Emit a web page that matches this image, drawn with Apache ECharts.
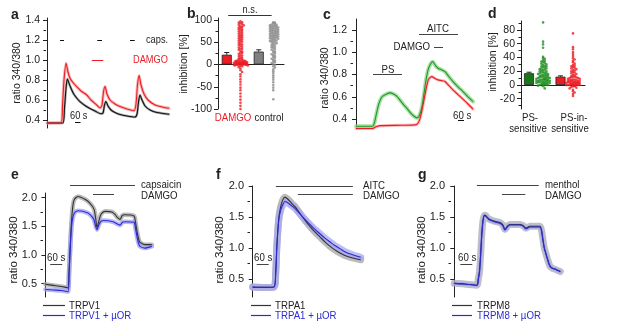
<!DOCTYPE html>
<html>
<head>
<meta charset="utf-8">
<script src="https://cdn.jsdelivr.net/npm/echarts@6/dist/echarts.min.js"></script>
<style>
  html, body { margin: 0; background: #fff; }
  #chart { width: 617px; height: 332px; }
</style>
</head>
<body>
<div id="chart"></div>
<script>
// ---------- data (time in s, ratio 340/380, inhibition in %) ----------
// panel a
const aBlack = [[0,0.37],[170,0.37],[189,0.52],[206,0.72],[220,0.81],[249,0.74],[285,0.667],[321,0.62],[357,0.583],[411,0.545],[465,0.515],[519,0.49],[584,0.462],[606,0.47],[622,0.55],[638,0.585],[660,0.54],[693,0.50],[736,0.475],[790,0.455],[866,0.44],[952,0.43],[974,0.46],[990,0.58],[1006,0.65],[1028,0.60],[1061,0.54],[1115,0.50],[1190,0.475],[1320,0.457]];
const aRed = [[0,0.37],[152,0.37],[168,0.55],[184,0.80],[206,0.967],[227,0.88],[249,0.817],[285,0.77],[321,0.733],[368,0.69],[430,0.65],[476,0.60],[538,0.55],[574,0.52],[595,0.55],[611,0.68],[628,0.735],[649,0.66],[682,0.60],[736,0.56],[790,0.535],[866,0.51],[942,0.493],[963,0.56],[979,0.75],[996,0.845],[1017,0.75],[1050,0.66],[1093,0.60],[1169,0.55],[1245,0.53],[1320,0.517]];
const aCaps = [[141,184,1.2],[544,595,1.2],[898,949,1.2]];
const aDamgo = [[484,609,1.0]];
const aScale = [[303,363,0.38]];
const aTicks = [0.4,0.6,0.8,1.0,1.2,1.4];
const aMinor = [0.5,0.7,0.9,1.1,1.3];

// panel b
const bBars = [[0.53,22,5],[2.47,29,4]];
const bDamgo = [97,95,94,92,91,89,88,86,85,83,82,80,79,77,76,74,72,71,69,67,66,64,62,61,59,57,56,54,52,51,49,47,45,44,42,40,38,36,35,33,31,29,27,26,24,22,20,19,17,15,14,12,11,10,9,9,8,8,7,7,6,6,6,5,5,5,4,4,4,4,3,3,3,3,2,2,2,2,1,1,1,1,0,0,0,0,0,-1,-1,-1,-2,-2,-3,-4,-6,-9,-13,-17,-22,-27,-33,-39,-45,-52,-58,-65,-72,-79,-86,-93,-100];
const bControl = [95,94,92,91,90,89,88,87,86,85,85,84,83,82,81,80,80,79,78,77,76,75,75,74,73,72,71,70,70,69,68,67,66,65,65,64,63,62,61,60,60,59,58,57,56,55,54,53,52,51,50,48,47,45,44,42,40,39,37,35,33,31,29,27,25,23,21,19,17,15,13,11,9,7,5,3,1,-1,-4,-7,-11,-15,-19,-24,-29,-34,-40,-46,-52,-58,-78];
const bBracket = [[0.62,3.25,110]];
const bTicks = [-100,-50,0,50,100];
const bMinor = [-75,-25,25,75];

// panel c
const cGreen = [[0,0.335],[167,0.335],[185,0.37],[205,0.45],[230,0.54],[260,0.60],[307,0.626],[340,0.635],[375,0.625],[407,0.605],[440,0.57],[475,0.53],[507,0.498],[545,0.455],[580,0.425],[607,0.41],[630,0.425],[657,0.50],[680,0.63],[700,0.75],[720,0.84],[745,0.895],[767,0.916],[795,0.88],[820,0.857],[850,0.845],[890,0.826],[930,0.78],[970,0.737],[1020,0.69],[1070,0.647],[1120,0.60],[1170,0.557]];
const cRed = [[0,0.315],[167,0.315],[200,0.33],[250,0.34],[400,0.343],[560,0.345],[607,0.35],[635,0.39],[660,0.48],[690,0.62],[723,0.752],[757,0.781],[790,0.765],[820,0.752],[860,0.745],[890,0.737],[930,0.70],[970,0.662],[1020,0.62],[1070,0.578],[1120,0.535],[1170,0.489]];
const cStim = [[170,460,0.8],[630,1020,1.164],[780,870,1.048]];
const cScale = [[1020,1080,0.393]];
const cTicks = [0.4,0.6,0.8,1.0,1.2];
const cMinor = [0.5,0.7,0.9,1.1];

// panel d
const dBars = [[0.5,17,1.5],[2.47,12,1.2]];
const dSensitive = [95,91,63,59,54,41,39,38,36,35,34,33,32,31,30,29,28,27,27,26,25,24,24,23,22,22,21,20,20,19,18,18,17,17,16,16,15,15,14,14,13,13,12,12,12,11,11,10,10,10,9,9,9,8,8,8,7,7,7,6,6,6,5,5,5,5,4,4,4,3,3,3,2,2,2,1,1,1,0,0,0,-1,-2,-5];
const dInsensitive = [75,55,52,48,45,42,39,37,35,33,31,29,28,27,26,25,24,23,22,21,20,19,18,17,16,15,14,13,12,12,11,11,10,10,9,9,8,8,7,7,7,6,6,6,5,5,5,4,4,4,4,3,3,3,3,2,2,2,2,1,1,1,1,0,0,0,0,0,-1,-1,-2,-2,-3,-4,-5,-7,-9,-11,-13,-16];
const dTicks = [-20,0,20,40,60,80];
const dMinor = [-30,-10,10,30,50,70,90];

// panel e
const eTRPV1 = [[0,0.49],[40,0.47],[80,0.45],[113,0.43],[118,0.7],[124,1.15],[130,1.55],[137,1.85],[145,1.97],[163,2.02],[198,1.97],[223,1.9],[243,1.8],[252,1.62],[258,1.48],[268,1.6],[278,1.71],[298,1.76],[333,1.75],[350,1.70],[358,1.66],[373,1.62],[383,1.68],[393,1.70],[443,1.68],[450,1.58],[458,1.41],[466,1.28],[473,1.22],[498,1.18],[532,1.18]];
const eTRPV1mor = [[0,0.40],[40,0.39],[80,0.38],[113,0.36],[118,0.65],[124,1.1],[130,1.47],[137,1.65],[147,1.74],[163,1.77],[213,1.73],[235,1.66],[243,1.61],[258,1.44],[270,1.55],[288,1.60],[338,1.58],[360,1.54],[373,1.52],[385,1.57],[398,1.58],[443,1.57],[450,1.47],[458,1.32],[466,1.20],[473,1.15],[498,1.12],[532,1.15]];
const eStim = [[123,448,2.22],[238,343,2.05]];
const eScale = [[24,84,0.843]];

// panel f
const fTRPA1 = [[0,0.37],[50,0.365],[106,0.37],[115,0.6],[121,1.05],[131,1.5],[141,1.68],[151,1.78],[161,1.82],[175,1.79],[195,1.72],[211,1.67],[236,1.56],[261,1.45],[286,1.35],[311,1.26],[336,1.18],[361,1.10],[386,1.03],[411,0.97],[436,0.92],[461,0.88],[500,0.84],[540,0.81]];
const fTRPA1mor = [[0,0.37],[50,0.365],[106,0.37],[115,0.6],[121,1.03],[131,1.47],[141,1.62],[151,1.70],[161,1.75],[175,1.73],[195,1.68],[211,1.64],[236,1.55],[261,1.46],[286,1.38],[311,1.30],[336,1.23],[361,1.16],[386,1.10],[411,1.04],[436,0.99],[461,0.94],[500,0.89],[540,0.85]];
const fStim = [[116,501,2.0],[226,501,1.87]];
const fScale = [[20,80,0.742]];

// panel g
const gTRPM8 = [[0,0.43],[50,0.42],[113,0.40],[120,0.50],[126,0.62],[131,0.85],[137,1.2],[143,1.43],[150,1.53],[158,1.52],[168,1.48],[178,1.46],[203,1.43],[228,1.41],[243,1.37],[253,1.30],[265,1.35],[278,1.38],[328,1.38],[345,1.36],[358,1.32],[378,1.35],[428,1.35],[436,1.29],[443,1.14],[450,1.0],[458,0.91],[468,0.80],[478,0.71],[490,0.675],[503,0.66],[530,0.62]];
const gTRPM8mor = [[0,0.43],[50,0.42],[113,0.40],[120,0.50],[126,0.62],[131,0.85],[137,1.2],[143,1.42],[150,1.52],[158,1.51],[168,1.48],[178,1.45],[203,1.42],[228,1.40],[243,1.36],[253,1.29],[265,1.34],[278,1.37],[328,1.37],[345,1.35],[358,1.31],[378,1.34],[428,1.34],[436,1.28],[443,1.13],[450,1.0],[458,0.91],[468,0.80],[478,0.71],[490,0.675],[503,0.66],[530,0.62]];
const gStim = [[113,422,2.02],[238,355,1.86]];
const gScale = [[30,90,0.742]];

const efgTicks = [0.5,1.0,1.5,2.0];
const efgMinor = [0.75,1.25,1.75];

// ---------- layout ----------
const FONT = '"Liberation Sans", Arial, sans-serif';
const INK = '#222';
const RED = '#ec1c24';
const BLUE = '#2a2ad6';

// one entry per panel: grid box + axis ranges
const panels = [
  { box: [46, 18, 123, 110], x: [-11, 1320], y: [0.32, 1.42], ticks: aTicks, minor: aMinor, fmt: 1, fs: 10.5 },
  { box: [218, 18, 66, 91], x: [0, 4], y: [-100, 104.5], ticks: bTicks, minor: bMinor, fmt: 0, zero: true, fs: 10.5 },
  { box: [353, 19, 120, 110], x: [-30, 1170], y: [0.31, 1.30], ticks: cTicks, minor: cMinor, fmt: 1, fs: 10.5 },
  { box: [521, 21, 64, 88], x: [0, 4], y: [-35, 93], ticks: dTicks, minor: dMinor, fmt: 0, zero: true, fs: 10.5 },
  { box: [43, 193, 109, 104], x: [-12, 533], y: [0.268, 2.08], ticks: efgTicks, minor: efgMinor, fmt: 1, fs: 11 },
  { box: [250, 186, 111, 111], x: [-13.5, 541.5], y: [0.21, 2.0], ticks: efgTicks, minor: efgMinor, fmt: 1, fs: 11 },
  { box: [451, 186, 110, 111], x: [-16.5, 533.5], y: [0.21, 2.0], ticks: efgTicks, minor: efgMinor, fmt: 1, fs: 11 },
];

const grid = panels.map(p => ({
  left: p.box[0], top: p.box[1], width: p.box[2], height: p.box[3],
  containLabel: false, outerBoundsMode: 'none'
}));

const xAxis = panels.map((p, i) => ({
  gridIndex: i, type: 'value', min: p.x[0], max: p.x[1],
  show: !!p.zero,
  axisLine: { show: !!p.zero, onZero: true, lineStyle: { color: INK, width: 1 } },
  axisTick: { show: false }, axisLabel: { show: false }, splitLine: { show: false }
}));

const yAxis = [];
panels.forEach((p, i) => {
  yAxis.push({
    gridIndex: i, type: 'value', position: 'left', offset: 0, min: p.y[0], max: p.y[1],
    axisLine: { show: true, lineStyle: { color: INK, width: 1 } },
    axisTick: { show: true, customValues: p.ticks, length: 4, lineStyle: { color: INK } },
    axisLabel: {
      customValues: p.ticks, color: INK, fontSize: p.fs, fontFamily: FONT, margin: 6,
      formatter: v => p.fmt ? v.toFixed(1) : String(v)
    },
    splitLine: { show: false }
  });
  // minor ticks on an overlaid axis
  yAxis.push({
    gridIndex: i, type: 'value', position: 'left', offset: 0, min: p.y[0], max: p.y[1],
    axisLine: { show: false },
    axisTick: { show: true, customValues: p.minor, length: 2.5, lineStyle: { color: INK } },
    axisLabel: { show: false }, splitLine: { show: false }
  });
});

// mean line plus a wide translucent copy standing in for the SEM band
function trace(gi, data, color, band, bandW, z) {
  const base = { type: 'line', xAxisIndex: gi, yAxisIndex: gi * 2, data, symbol: 'none', smooth: 0.25, silent: true };
  return [
    { ...base, z: z, lineStyle: { color: band, width: bandW, opacity: 0.75, cap: 'round', join: 'round' } },
    { ...base, z: z + 5, lineStyle: { color, width: 1.1 } },
  ];
}

// stimulus bars / scale bars: [t0, t1, level]
function stim(gi, segs, color) {
  return {
    type: 'lines', coordinateSystem: 'cartesian2d', xAxisIndex: gi, yAxisIndex: gi * 2,
    data: segs.map(s => ({ coords: [[s[0], s[2]], [s[1], s[2]]] })),
    lineStyle: { color: color || '#333', width: 1, opacity: 1 }, clip: false, silent: true, z: 20
  };
}

// simple beeswarm: values sharing a bin are spread left/right of the centre,
// wrapping back in (half a step shifted) once a row is maxSide slots wide
function swarm(vals, cx, binW, step, maxSide) {
  const bins = {};
  const row = 2 * maxSide + 1;
  return vals.map(v => {
    const b = Math.round(v / binW);
    const n = bins[b] = (bins[b] === undefined ? -1 : bins[b]) + 1;
    const k = n % row, pass = Math.floor(n / row);
    let off = k === 0 ? 0 : (k % 2 ? 1 : -1) * Math.ceil(k / 2) * step;
    if (pass % 2) off += step / 2;
    return [cx + off, v];
  });
}

function bars(gi, list, colors) {
  return [
    {
      type: 'bar', xAxisIndex: gi, yAxisIndex: gi * 2, barWidth: 10, silent: true, z: 5,
      data: list.map((b, k) => ({ value: [b[0], b[1]], itemStyle: { color: colors[k], borderColor: '#222', borderWidth: 0.8 } }))
    },
    {
      type: 'custom', xAxisIndex: gi, yAxisIndex: gi * 2, silent: true, z: 6,
      data: list,
      renderItem: (params, api) => {
        const x = api.value(0), m = api.value(1), e = api.value(2);
        const p0 = api.coord([x, m]), p1 = api.coord([x, m + e]);
        const st = { stroke: '#222', lineWidth: 1 };
        return {
          type: 'group', children: [
            { type: 'line', shape: { x1: p0[0], y1: p0[1], x2: p1[0], y2: p1[1] }, style: st },
            { type: 'line', shape: { x1: p1[0] - 2.5, y1: p1[1], x2: p1[0] + 2.5, y2: p1[1] }, style: st }
          ]
        };
      }
    }
  ];
}

function dots(gi, pts, color) {
  return { type: 'scatter', xAxisIndex: gi, yAxisIndex: gi * 2, data: pts, symbolSize: 2.6, itemStyle: { color }, silent: true, z: 7 };
}

const series = [
  // a
  ...trace(0, aBlack, '#111', '#8c8c8c', 2.5, 2),
  ...trace(0, aRed, RED, '#f59a9a', 3, 3),
  stim(0, aCaps, '#111'), stim(0, aDamgo, RED), stim(0, aScale, '#111'),
  // b
  ...bars(1, bBars, [RED, '#808080']),
  dots(1, swarm(bDamgo, 1.36, 5, 0.1, 4), RED),
  dots(1, swarm(bControl, 3.35, 5, 0.1, 4), '#8a8a8a'),
  stim(1, bBracket, '#333'),
  // c
  ...trace(2, cGreen, '#1c9a1c', '#8fd48f', 4, 2),
  ...trace(2, cRed, RED, '#f5a0a0', 3, 3),
  stim(2, cStim, '#444'), stim(2, cScale, '#111'),
  // d
  ...bars(3, dBars, ['#157a15', RED]),
  dots(3, swarm(dSensitive, 1.38, 3.5, 0.105, 4), '#1f8f1f'),
  dots(3, swarm(dInsensitive, 3.25, 3.5, 0.105, 4), RED),
  // e
  ...trace(4, eTRPV1, '#333', '#a4a4a4', 4.5, 2),
  ...trace(4, eTRPV1mor, BLUE, '#a0a0f2', 4.5, 3),
  stim(4, eStim, '#444'), stim(4, eScale, '#444'),
  // f
  ...trace(5, fTRPA1, '#333', '#a4a4a4', 7, 2),
  ...trace(5, fTRPA1mor, BLUE, '#a8a8f2', 7, 3),
  stim(5, fStim, '#444'), stim(5, fScale, '#444'),
  // g
  ...trace(6, gTRPM8, '#333', '#aaaabb', 7, 2),
  ...trace(6, gTRPM8mor, BLUE, '#9c9cf0', 3, 3),
  stim(6, gStim, '#444'), stim(6, gScale, '#444'),
];

// ---------- text & legend keys ----------
// figure lettering is a little condensed, hence the horizontal squeeze
function txt(x, y, text, o) {
  o = o || {};
  const rot = o.rot || 0;
  return {
    type: 'text', x, y, rotation: rot, silent: true, z: 50,
    scaleX: rot ? 1 : (o.sx || 0.88),
    style: {
      text, fill: o.color || INK, textAlign: o.align || 'left', textVerticalAlign: 'middle',
      font: (o.bold ? 'bold ' : '') + (o.size || 10.5) + 'px ' + FONT
    }
  };
}
function key(x1, x2, y, color) {
  return { type: 'line', silent: true, z: 50, shape: { x1, y1: y, x2, y2: y }, style: { stroke: color, lineWidth: 1.2 } };
}
const V = Math.PI / 2;

const graphic = [
  txt(11, 15, 'a', { bold: true, size: 14, sx: 1 }),
  txt(187, 14, 'b', { bold: true, size: 14, sx: 1 }),
  txt(323, 15, 'c', { bold: true, size: 14, sx: 1 }),
  txt(488, 14, 'd', { bold: true, size: 14, sx: 1 }),
  txt(11, 175, 'e', { bold: true, size: 14, sx: 1 }),
  txt(216, 175, 'f', { bold: true, size: 14, sx: 1 }),
  txt(418, 175, 'g', { bold: true, size: 14, sx: 1 }),

  txt(17, 73, 'ratio 340/380', { rot: V, align: 'center', size: 10.5 }),
  txt(184, 64, 'inhibition [%]', { rot: V, align: 'center', size: 10.5 }),
  txt(325, 78, 'ratio 340/380', { rot: V, align: 'center', size: 10.5 }),
  txt(493, 62, 'inhibition [%]', { rot: V, align: 'center', size: 10.5 }),
  txt(14, 250, 'ratio 340/380', { rot: V, align: 'center', size: 11.5 }),
  txt(220, 250, 'ratio 340/380', { rot: V, align: 'center', size: 11.5 }),
  txt(422, 250, 'ratio 340/380', { rot: V, align: 'center', size: 11.5 }),

  // a
  txt(146, 40, 'caps.'),
  txt(133, 60, 'DAMGO', { color: RED }),
  txt(70, 116, '60 s'),
  // b
  txt(250, 10, 'n.s.', { align: 'center' }),
  txt(233, 118, 'DAMGO', { align: 'center', size: 11, color: RED }),
  txt(269, 118, 'control', { align: 'center', size: 11 }),
  // c
  txt(388, 70, 'PS', { align: 'center', size: 11 }),
  txt(438, 29, 'AITC', { align: 'center', size: 11 }),
  txt(430, 47, 'DAMGO', { align: 'right', size: 11 }),
  txt(453, 116, '60 s', { size: 11 }),
  // d
  txt(530, 118, 'PS-', { align: 'center', size: 11 }),
  txt(528, 129, 'sensitive', { align: 'center', size: 11 }),
  txt(574, 118, 'PS-in-', { align: 'center', size: 11 }),
  txt(570, 129, 'sensitive', { align: 'center', size: 11 }),
  // e
  txt(141, 185, 'capsaicin', { size: 11 }),
  txt(141, 195.5, 'DAMGO', { size: 11 }),
  txt(47, 258, '60 s', { size: 11 }),
  key(43, 65, 305.5, '#333'), txt(69, 305.5, 'TRPV1', { size: 11 }),
  key(43, 65, 315.5, BLUE), txt(69, 316, 'TRPV1 + \u00b5OR', { size: 11, color: BLUE }),
  // f
  txt(363, 186, 'AITC', { size: 11 }),
  txt(363, 195.5, 'DAMGO', { size: 11 }),
  txt(254, 258, '60 s', { size: 11 }),
  key(251, 271, 305.5, '#333'), txt(275, 305.5, 'TRPA1', { size: 11 }),
  key(251, 271, 315.5, BLUE), txt(275, 316, 'TRPA1 + \u00b5OR', { size: 11, color: BLUE }),
  // g
  txt(545, 185, 'menthol', { size: 11 }),
  txt(545, 195.5, 'DAMGO', { size: 11 }),
  txt(458, 258, '60 s', { size: 11 }),
  key(452, 472, 305.5, '#333'), txt(477, 305.5, 'TRPM8', { size: 11 }),
  key(452, 472, 315.5, BLUE), txt(477, 316, 'TRPM8 + \u00b5OR', { size: 11, color: BLUE }),
];

const chart = echarts.init(document.getElementById('chart'), null, { renderer: 'canvas' });
chart.setOption({
  animation: false,
  backgroundColor: '#fff',
  textStyle: { fontFamily: FONT },
  grid, xAxis, yAxis, series, graphic
});
</script>
</body>
</html>
